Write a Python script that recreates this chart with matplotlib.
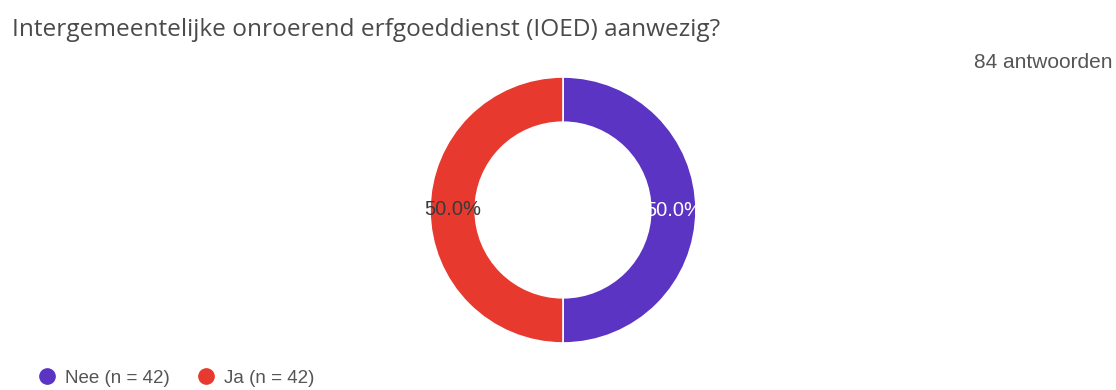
import matplotlib.pyplot as plt
from matplotlib.lines import Line2D

# data
title = 'Intergemeentelijke onroerend erfgoeddienst (IOED) aanwezig?'
total_label = '84 antwoorden'
labels = ['Nee', 'Ja']
counts = [42, 42]
colors = ['#5b34c3', '#e8392f']
pct_colors = ['white', '#3a3a3a']

W, H = 1116, 390
fig = plt.figure(figsize=(W / 100, H / 100), dpi=100)
fig.patch.set_facecolor('white')

# donut: center (563, 210) px, outer radius 133 px
cx, cy, r = 563, 210, 133
ax = fig.add_axes([(cx - r) / W, (H - cy - r) / H, 2 * r / W, 2 * r / H])
wedges, texts, autotexts = ax.pie(
    counts, colors=colors, startangle=90, counterclock=False, radius=1.0,
    wedgeprops=dict(width=0.34, edgecolor='white', linewidth=1.2),
    autopct='%.1f%%', pctdistance=0.83,
    textprops=dict(family='Liberation Sans', fontsize=14.5))
for t, c in zip(autotexts, pct_colors):
    t.set_color(c)
ax.set_xlim(-1, 1)
ax.set_ylim(-1, 1)
ax.axis('off')

fig.text(12 / W, 1 - 36 / H, title, fontsize=17.6, color='#4a4a4a',
         family='Open Sans', va='baseline', ha='left')
fig.text(1113 / W, 1 - 68 / H, total_label, fontsize=15, color='#555555',
         family='Liberation Sans', va='baseline', ha='right')

# legend at the bottom left
handles = [Line2D([], [], marker='o', linestyle='', markersize=11,
                  markerfacecolor=c, markeredgecolor=c) for c in colors]
leg_labels = ['%s (n = %d)' % (l, n) for l, n in zip(labels, counts)]
fig.legend(handles, leg_labels, loc='center left',
           bbox_to_anchor=(37.6 / W, 1 - 378 / H), ncol=2, frameon=False,
           handlelength=1.0, handletextpad=0.46, columnspacing=1.42,
           borderpad=0, borderaxespad=0,
           prop=dict(family='Liberation Sans', size=13.5), labelcolor='#555555')

fig.savefig('out.png', dpi=100, facecolor='white')
